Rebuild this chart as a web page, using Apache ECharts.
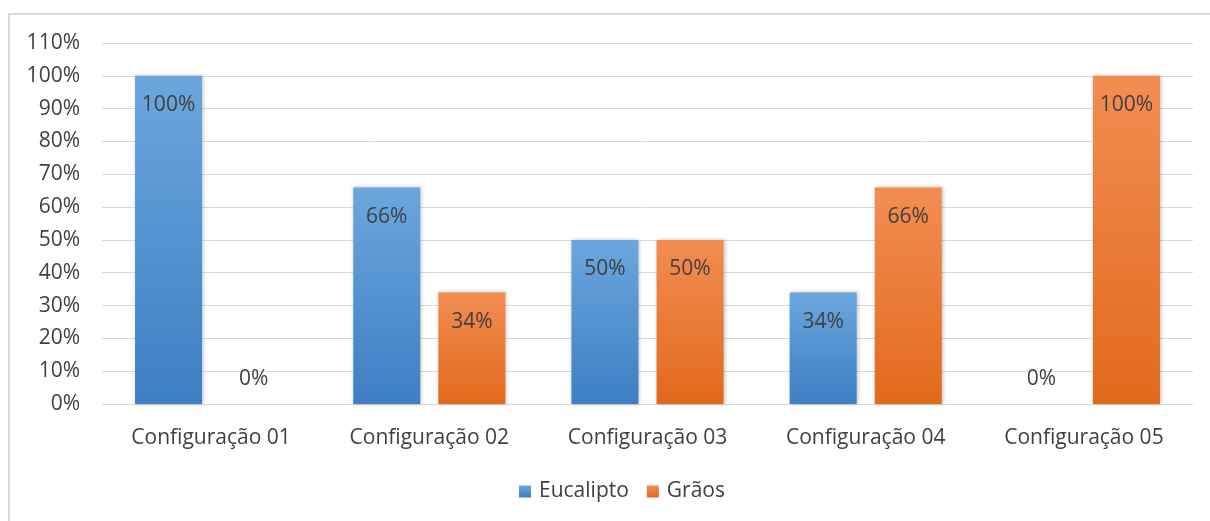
<!DOCTYPE html>
<html>
<head>
<meta charset="utf-8">
<script src="https://cdn.jsdelivr.net/npm/echarts@6/dist/echarts.min.js"></script>
<style>
  html, body { margin: 0; padding: 0; background: #fff; }
  #chart { width: 1210px; height: 521px; }
</style>
</head>
<body>
<div id="chart"></div>
<script>
const categories = ['Configuração 01', 'Configuração 02', 'Configuração 03', 'Configuração 04', 'Configuração 05']
const eucalipto = [100, 66, 50, 34, 0]
const graos = [0, 34, 50, 66, 100]

const fontFamily = 'Open Sans, Noto Sans, sans-serif'

const gradient = (top, bottom) => new echarts.graphic.LinearGradient(0, 0, 0, 1, [
  { offset: 0, color: top },
  { offset: 1, color: bottom }
])

// zero bars get their label drawn just above the axis, like Excel does
const toItems = values => values.map(v => v === 0
  ? { value: v, label: { position: 'top', distance: 14 } }
  : v)

const labelStyle = {
  show: true,
  position: 'insideTop',
  distance: 19,
  formatter: '{c}%',
  color: '#404040',
  fontSize: 21,
  fontFamily
}

const chart = echarts.init(document.getElementById('chart'))
chart.setOption({
  animation: false,
  graphic: [{
    type: 'rect',
    shape: { x: 9, y: 14, width: 1240, height: 560 },
    style: { fill: 'none', stroke: '#d9d9d9', lineWidth: 2 },
    silent: true
  }],
  grid: { left: 102, right: 17, top: 43, bottom: 117 },
  legend: {
    bottom: 14,
    left: 514,
    itemWidth: 12,
    itemHeight: 12,
    itemGap: 18,
    icon: 'rect',
    textStyle: { color: '#404040', fontSize: 21, fontFamily, padding: [0, 0, 0, 3] },
    data: ['Eucalipto', 'Grãos']
  },
  xAxis: {
    type: 'category',
    data: categories,
    axisLine: { lineStyle: { color: '#d9d9d9', width: 1 } },
    axisTick: { show: false },
    axisLabel: { color: '#404040', fontSize: 21, fontFamily, margin: 24 }
  },
  yAxis: {
    type: 'value',
    min: 0,
    max: 110,
    interval: 10,
    axisLine: { show: false },
    axisTick: { show: false },
    splitLine: { lineStyle: { color: '#d9d9d9', width: 1 } },
    axisLabel: { color: '#404040', fontSize: 21, fontFamily, formatter: '{value}%', margin: 22 }
  },
  series: [
    {
      name: 'Eucalipto',
      type: 'bar',
      data: toItems(eucalipto),
      barWidth: 67,
      barGap: '27%',
      itemStyle: {
        color: gradient('#6ba6de', '#3d7fc3'),
        shadowColor: 'rgba(0,0,0,0.25)',
        shadowBlur: 4,
        shadowOffsetX: 1
      },
      label: labelStyle
    },
    {
      name: 'Grãos',
      type: 'bar',
      data: toItems(graos),
      barWidth: 67,
      barGap: '27%',
      itemStyle: {
        color: gradient('#f28d52', '#e2691c'),
        shadowColor: 'rgba(0,0,0,0.25)',
        shadowBlur: 4,
        shadowOffsetX: 1
      },
      label: labelStyle
    }
  ]
})
</script>
</body>
</html>
